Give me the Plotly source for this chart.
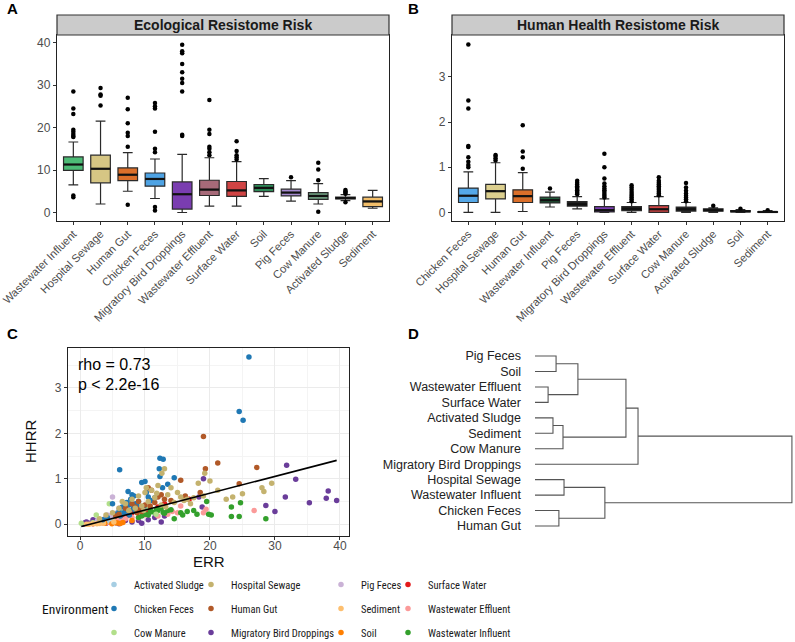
import plotly.graph_objects as go

W, H = 795, 642

# ---------------- Panel A data (Ecological Resistome Risk) ----------------
a_categories = ["Wastewater Influent", "Hospital Sewage", "Human Gut", "Chicken Feces",
                "Migratory Bird Droppings", "Wastewater Effluent", "Surface Water", "Soil",
                "Pig Feces", "Cow Manure", "Activated Sludge", "Sediment"]
a_q1 = [9.9, 7.0, 7.5, 6.2, 0.8, 4.0, 3.8, 4.9, 3.9, 3.1, 3.2, 1.4]
a_median = [11.3, 10.3, 8.9, 7.9, 4.3, 5.4, 5.2, 5.8, 4.7, 3.9, 3.4, 2.6]
a_q3 = [13.1, 13.5, 10.5, 9.3, 7.2, 7.6, 7.3, 6.6, 5.5, 4.7, 3.6, 3.6]
a_lower = [6.5, 2.0, 5.0, 3.3, 0.0, 1.5, 1.5, 3.8, 2.7, 2.0, 2.8, 1.0]
a_upper = [16.6, 21.5, 14.1, 12.6, 13.7, 12.9, 12.0, 8.0, 7.5, 6.8, 4.2, 5.2]
a_outliers = [
    [28.5, 24.5, 23.2, 19.5, 19.0, 18.5, 18.0, 17.8, 4.0, 3.6],
    [25.2, 27.5, 27.8, 29.3],
    [15.5, 18.0, 18.8, 21.0, 24.3, 27.0, 1.8],
    [14.2, 15.0, 19.0, 24.5, 25.0, 25.8, 0.5, 1.3],
    [18.0, 18.3, 28.5, 30.5, 31.5, 33.0, 35.0, 37.5, 38.0, 39.5],
    [13.5, 14.2, 15.0, 15.5, 18.5, 19.5, 26.5],
    [12.5, 13.0, 13.5, 14.5, 16.8],
    [],
    [8.3],
    [7.6, 10.1, 11.7, 0.2],
    [4.4, 4.7, 5.0, 5.3, 2.4],
    [],
]
a_colors = ["#4DBB76", "#D6C684", "#DB6F2A", "#4EA3E4", "#7A3DB0", "#A76A79",
            "#D04444", "#2E8A58", "#A68BD0", "#6F9E81", "#222222", "#F2BE6A"]

# ---------------- Panel B data (Human Health Resistome Risk) ----------------
b_categories = ["Chicken Feces", "Hospital Sewage", "Human Gut", "Wastewater Influent",
                "Pig Feces", "Migratory Bird Droppings", "Wastewater Effluent", "Surface Water",
                "Cow Manure", "Activated Sludge", "Soil", "Sediment"]
b_q1 = [0.22, 0.30, 0.22, 0.21, 0.14, 0.01, 0.04, 0.00, 0.03, 0.03, 0.01, 0.00]
b_median = [0.37, 0.47, 0.36, 0.27, 0.18, 0.05, 0.08, 0.07, 0.07, 0.05, 0.025, 0.01]
b_q3 = [0.54, 0.62, 0.50, 0.34, 0.24, 0.13, 0.13, 0.15, 0.12, 0.08, 0.04, 0.02]
b_lower = [0.0, 0.0, 0.02, 0.12, 0.08, 0.0, 0.0, 0.0, 0.0, 0.0, 0.0, 0.0]
b_upper = [0.90, 1.10, 0.88, 0.45, 0.35, 0.30, 0.22, 0.35, 0.22, 0.10, 0.06, 0.04]
b_outliers = [
    [1.0, 1.05, 1.12, 1.22, 1.45, 1.47, 2.30, 2.48, 3.72],
    [1.15, 1.2, 1.25, 1.27],
    [0.97, 1.22, 1.35, 1.93],
    [0.53],
    [0.40, 0.43, 0.46, 0.49, 0.52, 0.55, 0.58, 0.62, 0.66, 0.70],
    [0.33, 0.37, 0.41, 0.45, 0.49, 0.53, 0.58, 0.64, 0.75, 1.0, 1.3],
    [0.25, 0.29, 0.33, 0.37, 0.41, 0.45, 0.50, 0.55, 0.60],
    [0.38, 0.42, 0.46, 0.50, 0.54, 0.58, 0.62, 0.66, 0.70, 0.78],
    [0.25, 0.29, 0.33, 0.37, 0.42, 0.48, 0.55, 0.65],
    [0.15],
    [0.08],
    [0.05],
]
b_colors = ["#55A8E8", "#DCCF8E", "#DB6F2A", "#235E3C", "#222222", "#7A3DB0",
            "#222222", "#D04444", "#222222", "#222222", "#222222", "#222222"]

# ---------------- Panel C data (ERR vs HHRR scatter) ----------------
env_names = ["Activated Sludge", "Chicken Feces", "Cow Manure", "Hospital Sewage", "Human Gut",
             "Migratory Bird Droppings", "Pig Feces", "Sediment", "Soil", "Surface Water",
             "Wastewater Effluent", "Wastewater Influent"]
env_colors = ["#A6CEE3", "#1F78B4", "#B2DF8A", "#C4B26E", "#B15928", "#6A3D9A",
              "#CAB2D6", "#FDBF6F", "#FF7F00", "#E31A1C", "#FB9A99", "#33A02C"]

err_as = [3.4, 3.2, 3.6, 3.0, 4.4, 4.7, 5.0, 2.4, 3.8]
hhrr_as = [0.05, 0.04, 0.06, 0.03, 0.08, 0.10, 0.15, 0.02, 0.07]
err_cf = [26.0, 24.5, 25.1, 12.3, 12.8, 6.1, 12.2, 12.3, 14.5, 9.5, 10.0, 12.7, 7.4, 8.0, 5.0,
          6.5, 7.0, 7.5, 8.2, 8.5, 9.0, 6.8, 7.8, 8.8, 9.3, 10.5, 5.5, 6.2, 7.2, 8.6, 11.0,
          4.2, 3.5, 9.8, 6.0, 7.6, 8.3, 10.2, 11.5, 13.5]
hhrr_cf = [3.68, 2.48, 2.29, 1.45, 1.43, 1.20, 1.22, 1.05, 1.02, 0.92, 0.94, 0.80, 0.72, 0.65,
           0.45, 0.38, 0.30, 0.42, 0.35, 0.28, 0.50, 0.25, 0.55, 0.40, 0.33, 0.60, 0.22, 0.18,
           0.48, 0.45, 0.52, 0.15, 0.10, 0.36, 0.28, 0.20, 0.62, 0.70, 0.58, 0.88]
err_cm = [2.5, 4.5, 3.0, 4.0, 3.5, 5.0, 6.5, 2.0, 7.6, 10.1, 11.7, 0.2]
hhrr_cm = [0.20, 0.45, 0.10, 0.06, 0.08, 0.12, 0.25, 0.03, 0.30, 0.35, 0.22, 0.02]
err_hs = [13.0, 12.6, 19.2, 20.0, 18.2, 21.2, 25.0, 28.0, 29.5, 28.3, 14.0, 15.5, 16.5, 17.0,
          7.0, 8.0, 9.0, 10.0, 11.0, 12.0, 13.5, 9.5, 10.5, 11.5, 8.5, 7.5, 6.0, 12.5, 14.5,
          16.0, 17.5, 5.0, 4.0, 3.0, 10.2, 11.8, 9.8, 6.5, 13.2, 15.0, 19.0, 22.5, 23.5]
hhrr_hs = [1.22, 1.12, 1.12, 0.95, 0.90, 0.75, 0.67, 0.80, 0.90, 0.72, 0.80, 0.60, 0.55, 0.45,
           0.45, 0.55, 0.62, 0.70, 0.75, 0.85, 0.65, 0.40, 0.50, 0.58, 0.35, 0.30, 0.35, 0.42,
           0.48, 0.52, 0.58, 0.25, 0.20, 0.12, 0.80, 0.68, 0.30, 0.50, 0.38, 0.70, 0.62, 0.55,
           0.60]
err_hg = [19.0, 19.3, 21.2, 27.2, 24.5, 15.5, 18.5, 10.5, 11.0, 12.0, 13.0, 9.0, 8.0, 7.5,
          8.5, 9.5, 10.0, 6.0, 5.5, 7.0, 11.5, 12.5, 9.2, 8.8, 10.8, 14.0, 16.2]
hhrr_hg = [1.93, 1.22, 1.35, 1.25, 0.89, 0.97, 0.70, 0.80, 0.75, 0.60, 0.55, 0.50, 0.45, 0.30,
           0.38, 0.28, 0.42, 0.22, 0.18, 0.35, 0.48, 0.65, 0.33, 0.25, 0.40, 0.52, 0.62]
err_mbd = [31.8, 33.2, 31.6, 28.6, 30.0, 35.3, 37.9, 38.2, 39.5, 19.0, 18.3, 18.8, 13.0, 12.5,
           9.5, 4.0, 1.0, 2.0, 3.0, 5.0, 6.0, 7.0, 0.5, 1.5, 2.5, 3.5, 4.5, 5.5, 6.5, 8.0, 0.8,
           10.5, 11.5, 9.0]
hhrr_mbd = [1.30, 0.99, 0.60, 0.41, 0.28, 0.47, 0.57, 0.73, 0.52, 1.00, 0.60, 0.38, 0.18, 0.05,
            0.02, 0.02, 0.05, 0.10, 0.03, 0.06, 0.01, 0.08, 0.00, 0.02, 0.07, 0.04, 0.12, 0.03,
            0.09, 0.05, 0.04, 0.10, 0.15, 0.08]
err_pf = [4.7, 3.9, 5.5, 7.5, 8.3, 2.7, 4.2, 5.0, 6.0]
hhrr_pf = [0.18, 0.14, 0.24, 0.30, 0.45, 0.08, 0.20, 0.60, 0.35]
err_sed = [2.6, 1.4, 3.6, 5.2, 1.0, 2.0, 3.0]
hhrr_sed = [0.01, 0.0, 0.02, 0.05, 0.0, 0.01, 0.015]
err_soil = [5.8, 4.9, 6.6, 8.0, 3.8, 5.5, 6.2]
hhrr_soil = [0.025, 0.01, 0.04, 0.08, 0.02, 0.03, 0.015]
err_sw = [9.5, 5.0, 7.0, 8.5, 4.0, 6.0, 3.0, 2.0, 5.5, 6.5, 7.5, 8.0, 12.0, 13.0, 16.8, 4.5,
          10.5, 3.5]
hhrr_sw = [0.35, 0.05, 0.12, 0.40, 0.03, 0.08, 0.02, 0.01, 0.10, 0.15, 0.20, 0.25, 0.38, 0.45,
           0.55, 0.06, 0.30, 0.04]
err_we = [26.8, 19.4, 19.0, 15.0, 10.0, 8.0, 6.0, 5.0, 4.5, 5.5, 7.0, 3.5, 6.5, 13.5, 12.0,
          9.0, 4.0, 2.0, 14.2, 15.5]
hhrr_we = [0.30, 0.33, 0.25, 0.25, 0.20, 0.15, 0.10, 0.08, 0.05, 0.06, 0.12, 0.04, 0.09, 0.22,
           0.18, 0.14, 0.03, 0.02, 0.28, 0.40]
err_wi = [23.3, 24.7, 23.3, 24.5, 28.6, 19.5, 19.8, 20.2, 18.0, 16.5, 14.5, 15.5, 13.5, 12.0,
          11.5, 10.5, 12.5, 11.0, 10.0, 9.5, 13.0, 14.0, 12.8, 11.8, 17.5, 15.8, 9.0, 10.8]
hhrr_wi = [0.38, 0.47, 0.17, 0.17, 0.12, 0.50, 0.22, 0.20, 0.22, 0.28, 0.12, 0.25, 0.30, 0.30,
           0.25, 0.20, 0.35, 0.28, 0.22, 0.18, 0.24, 0.32, 0.26, 0.33, 0.30, 0.20, 0.15, 0.27]

env_err = [err_as, err_cf, err_cm, err_hs, err_hg, err_mbd, err_pf, err_sed, err_soil, err_sw, err_we, err_wi]
env_hhrr = [hhrr_as, hhrr_cf, hhrr_cm, hhrr_hs, hhrr_hg, hhrr_mbd, hhrr_pf, hhrr_sed, hhrr_soil, hhrr_sw, hhrr_we, hhrr_wi]

fit_intercept = -0.06
fit_slope = 0.0371
rho_text = "rho = 0.73"
p_text = "p < 2.2e-16"

# ---------------- Panel D data (dendrogram) ----------------
dend_leaves = ["Pig Feces", "Soil", "Wastewater Effluent", "Surface Water", "Activated Sludge",
               "Sediment", "Cow Manure", "Migratory Bird Droppings", "Hospital Sewage",
               "Wastewater Influent", "Chicken Feces", "Human Gut"]
merge_left = [0, 2, 12, 4, 15, 14, 17, 8, 10, 19, 18]
merge_right = [1, 3, 13, 5, 6, 16, 7, 9, 11, 20, 21]
merge_height = [8.2, 5.1, 16.7, 7.0, 10.9, 35.4, 40.1, 11.3, 9.3, 27.2, 100.0]

# ---------------- layout helpers ----------------
def px_x(p):
    return p / W

def px_y(p):
    return 1 - p / H

FONT = "Liberation Sans, Arial, sans-serif"
NARROW = "Roboto Condensed, Noto Sans Condensed, Liberation Sans Narrow, Liberation Sans, sans-serif"
TICKC = "#4D4D4D"
BOX_W = 0.72

fig = go.Figure()
shapes = []

# Panel A boxes
for i, cat in enumerate(a_categories):
    fig.add_trace(go.Box(
        x=[cat], q1=[a_q1[i]], median=[a_median[i]], q3=[a_q3[i]],
        lowerfence=[a_lower[i]], upperfence=[a_upper[i]],
        fillcolor=a_colors[i], line=dict(color="#2a2a2a", width=1.2), width=BOX_W,
        boxpoints=False, showlegend=False, xaxis="x", yaxis="y", hoverinfo="skip"))
    shapes.append(dict(type="line", xref="x", yref="y", x0=i - BOX_W / 2, x1=i + BOX_W / 2,
                       y0=a_median[i], y1=a_median[i], line=dict(color="#111111", width=2.2)))
    if a_outliers[i]:
        fig.add_trace(go.Scatter(
            x=[cat] * len(a_outliers[i]), y=a_outliers[i], mode="markers",
            marker=dict(color="black", size=4.5), showlegend=False, xaxis="x", yaxis="y"))

# Panel B boxes
for i, cat in enumerate(b_categories):
    fig.add_trace(go.Box(
        x=[cat], q1=[b_q1[i]], median=[b_median[i]], q3=[b_q3[i]],
        lowerfence=[b_lower[i]], upperfence=[b_upper[i]],
        fillcolor=b_colors[i], line=dict(color="#2a2a2a", width=1.2), width=BOX_W,
        boxpoints=False, showlegend=False, xaxis="x2", yaxis="y2", hoverinfo="skip"))
    shapes.append(dict(type="line", xref="x2", yref="y2", x0=i - BOX_W / 2, x1=i + BOX_W / 2,
                       y0=b_median[i], y1=b_median[i], line=dict(color="#111111", width=2.2)))
    if b_outliers[i]:
        fig.add_trace(go.Scatter(
            x=[cat] * len(b_outliers[i]), y=b_outliers[i], mode="markers",
            marker=dict(color="black", size=4.5), showlegend=False, xaxis="x2", yaxis="y2"))

# Panel C scatter (draw order so dense groups sit on top like the original)
draw_order = [5, 9, 10, 11, 2, 0, 8, 6, 7, 1, 4, 3]
legend_ids = ["legend", "legend2", "legend3", "legend4"]
for k in draw_order:
    fig.add_trace(go.Scatter(
        x=env_err[k], y=env_hhrr[k], mode="markers", name=env_names[k],
        marker=dict(color=env_colors[k], size=5.5),
        xaxis="x3", yaxis="y3", legend=legend_ids[k // 3], legendrank=k,
        legendgroup=env_names[k]))

all_err = [v for arr in env_err for v in arr]
line_x = [min(all_err), max(all_err)]
fig.add_trace(go.Scatter(
    x=line_x, y=[fit_intercept + fit_slope * v for v in line_x], mode="lines",
    line=dict(color="black", width=1.6), showlegend=False, xaxis="x3", yaxis="y3"))

# Panel D dendrogram
n_leaf = len(dend_leaves)
node_pos = {i: float(i) for i in range(n_leaf)}
node_h = {i: 0.0 for i in range(n_leaf)}
dx, dy = [], []
for j, (l, r, h) in enumerate(zip(merge_left, merge_right, merge_height)):
    dx += [node_h[l], h, h, node_h[r], None]
    dy += [node_pos[l], node_pos[l], node_pos[r], node_pos[r], None]
    node_pos[n_leaf + j] = (node_pos[l] + node_pos[r]) / 2
    node_h[n_leaf + j] = h
fig.add_trace(go.Scatter(x=dx, y=dy, mode="lines", line=dict(color="#555555", width=1.1),
                         showlegend=False, xaxis="x4", yaxis="y4", hoverinfo="skip"))

# ---------------- axes ----------------
box_common = dict(showline=True, mirror=True, linecolor="#222222", linewidth=1.3,
                  ticks="outside", ticklen=3, tickcolor="#333333", showgrid=False,
                  zeroline=False, automargin=False)
ytick_font = dict(family=FONT, size=12, color=TICKC)
xtick_font = dict(family=FONT, size=11.2, color=TICKC)

A_X = (57, 389)
B_X = (452, 784)
AB_Y = (35, 221)
C_X = (68, 349)
C_Y = (348, 536)
fig.update_layout(
    template="none",
    xaxis=dict(domain=[px_x(A_X[0]), px_x(A_X[1])], anchor="y", type="category",
               categoryorder="array", categoryarray=a_categories, range=[-0.6, 11.6],
               tickangle=-45, ticklabelstandoff=-2, tickfont=xtick_font, **box_common),
    yaxis=dict(domain=[px_y(AB_Y[1]), px_y(AB_Y[0])], anchor="x", range=[-2.0, 41.8],
               tickvals=[0, 10, 20, 30, 40], tickfont=ytick_font, **box_common),
    xaxis2=dict(domain=[px_x(B_X[0]), px_x(B_X[1])], anchor="y2", type="category",
                categoryorder="array", categoryarray=b_categories, range=[-0.6, 11.6],
                tickangle=-45, ticklabelstandoff=-2, tickfont=xtick_font, **box_common),
    yaxis2=dict(domain=[px_y(AB_Y[1]), px_y(AB_Y[0])], anchor="x2", range=[-0.19, 3.93],
                tickvals=[0, 1, 2, 3], tickfont=ytick_font, **box_common),
    xaxis3=dict(domain=[px_x(C_X[0]), px_x(C_X[1])], anchor="y3", range=[-1.85, 41.4],
                tickvals=[0, 10, 20, 30, 40], showline=True, mirror=True, linecolor="#222222",
                linewidth=1.3, ticks="outside", ticklen=3, tickcolor="#333333",
                ticklabelstandoff=-5,
                showgrid=True, gridcolor="#EBEBEB", gridwidth=1, zeroline=False, automargin=False,
                minor=dict(showgrid=True, gridcolor="#F4F4F4", dtick=5, tick0=0),
                tickfont=ytick_font),
    yaxis3=dict(domain=[px_y(C_Y[1]), px_y(C_Y[0])], anchor="x3", range=[-0.26, 3.88],
                tickvals=[0, 1, 2, 3], showline=True, mirror=True, linecolor="#222222",
                linewidth=1.3, ticks="outside", ticklen=3, tickcolor="#333333",
                showgrid=True, gridcolor="#EBEBEB", gridwidth=1, zeroline=False, automargin=False,
                minor=dict(showgrid=True, gridcolor="#F4F4F4", dtick=0.5, tick0=0),
                tickfont=ytick_font),
    xaxis4=dict(domain=[px_x(522), 1.0], anchor="y4", range=[-5.06, 101.2], visible=False,
                automargin=False),
    yaxis4=dict(domain=[px_y(533.7), px_y(348.3)], anchor="x4", range=[11.5, -0.5],
                tickvals=list(range(n_leaf)), ticktext=dend_leaves, showline=False,
                showgrid=False, zeroline=False, ticks="", automargin=False,
                tickfont=dict(family=FONT, size=12.5, color="#222222")),
)

# ---------------- strips, panel letters, annotations ----------------
annotations = []
for (x0, x1), title in [(A_X, "Ecological Resistome Risk"), (B_X, "Human Health Resistome Risk")]:
    shapes.append(dict(type="rect", xref="paper", yref="paper", x0=px_x(x0), x1=px_x(x1),
                       y0=px_y(35), y1=px_y(15), fillcolor="#CBCBCB",
                       line=dict(color="#333333", width=1.2), layer="above"))
    annotations.append(dict(xref="paper", yref="paper", x=px_x((x0 + x1) / 2), y=px_y(25),
                            text="<b>%s</b>" % title, showarrow=False, xanchor="center",
                            yanchor="middle", font=dict(family=FONT, size=14, color="#1A1A1A")))
for letter, lx, ly in [("A", 5, 8), ("B", 406, 8), ("C", 5, 333), ("D", 406, 333)]:
    annotations.append(dict(xref="paper", yref="paper", x=px_x(lx), y=px_y(ly),
                            text="<b>%s</b>" % letter, showarrow=False, xanchor="left",
                            yanchor="middle", font=dict(family=FONT, size=15, color="black")))
annotations.append(dict(xref="x3 domain", yref="y3 domain", x=0.03, y=0.97, text=rho_text,
                        showarrow=False, xanchor="left", yanchor="top",
                        font=dict(family=FONT, size=16, color="black")))
annotations.append(dict(xref="x3 domain", yref="y3 domain", x=0.03, y=0.86, text=p_text,
                        showarrow=False, xanchor="left", yanchor="top",
                        font=dict(family=FONT, size=16, color="black")))
# axis titles of panel C
annotations.append(dict(xref="paper", yref="paper", x=px_x((C_X[0] + C_X[1]) / 2), y=px_y(561),
                        text="ERR", showarrow=False, xanchor="center", yanchor="middle",
                        font=dict(family=FONT, size=15, color="#111111")))
annotations.append(dict(xref="paper", yref="paper", x=px_x(30), y=px_y((C_Y[0] + C_Y[1]) / 2),
                        text="HHRR", showarrow=False, xanchor="center", yanchor="middle",
                        textangle=-90, font=dict(family=FONT, size=15, color="#111111")))
annotations.append(dict(xref="paper", yref="paper", x=px_x(40), y=px_y(609), text="Environment",
                        showarrow=False, xanchor="left", yanchor="middle",
                        font=dict(family=NARROW, size=13.5, color="#111111")))

legend_common = dict(orientation="v", xanchor="left", yanchor="top", bgcolor="rgba(0,0,0,0)",
                     font=dict(family=NARROW, size=10.5, color="#1A1A1A"), tracegroupgap=5,
                     itemsizing="trace", borderwidth=0, itemclick=False)
leg_x = [94, 191, 321, 388]
leg_top = 570
fig.update_layout(
    legend=dict(x=px_x(leg_x[0]), y=px_y(leg_top), **legend_common),
    legend2=dict(x=px_x(leg_x[1]), y=px_y(leg_top), **legend_common),
    legend3=dict(x=px_x(leg_x[2]), y=px_y(leg_top), **legend_common),
    legend4=dict(x=px_x(leg_x[3]), y=px_y(leg_top), **legend_common),
    shapes=shapes, annotations=annotations,
    width=W, height=H, margin=dict(l=0, r=0, t=0, b=0, autoexpand=False), autosize=False,
    plot_bgcolor="white", paper_bgcolor="white", boxmode="overlay",
    font=dict(family=FONT, size=12, color="#222222"),
)

fig.write_html("out.html")
